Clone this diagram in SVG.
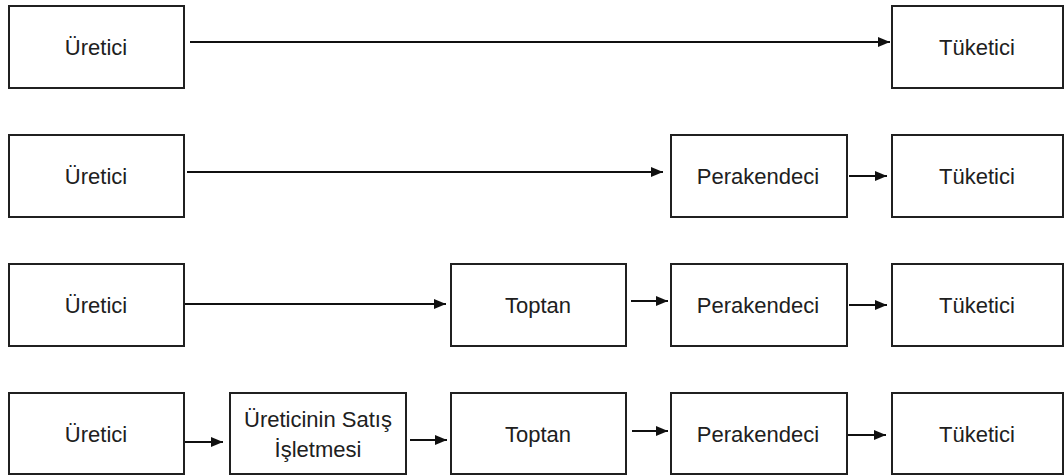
<svg xmlns="http://www.w3.org/2000/svg" width="1064" height="475" viewBox="0 0 1064 475">
  <style>
    .box { fill: #ffffff; stroke: #202020; stroke-width: 2; }
    .lbl { font-family: "Liberation Sans", Arial, sans-serif; font-size: 22px; fill: #202020; text-anchor: middle; }
    .edge { stroke: #101010; stroke-width: 2; fill: none; marker-end: url(#arrow); }
  </style>
  <defs>
    <marker id="arrow" markerUnits="userSpaceOnUse" markerWidth="13" markerHeight="12" refX="12" refY="5" orient="auto">
      <path d="M0,0 L12,5 L0,10 z" fill="#101010"/>
    </marker>
  </defs>
  <rect width="1064" height="475" fill="#ffffff"/>

  <!-- Row 1: producer to consumer -->
  <g id="r1-uretici"><rect class="box" x="9" y="6" width="175" height="82"/><text class="lbl" x="96" y="55">Üretici</text></g>
  <g id="r1-tuketici"><rect class="box" x="892" y="6" width="171" height="82"/><text class="lbl" x="977" y="55">Tüketici</text></g>

  <!-- Row 2: via retailer -->
  <g id="r2-uretici"><rect class="box" x="9" y="135" width="175" height="82"/><text class="lbl" x="96" y="184">Üretici</text></g>
  <g id="r2-perakendeci"><rect class="box" x="671" y="135" width="176" height="82"/><text class="lbl" x="758" y="184">Perakendeci</text></g>
  <g id="r2-tuketici"><rect class="box" x="892" y="135" width="171" height="82"/><text class="lbl" x="977" y="184">Tüketici</text></g>

  <!-- Row 3: via wholesaler and retailer -->
  <g id="r3-uretici"><rect class="box" x="9" y="264" width="175" height="82"/><text class="lbl" x="96" y="313">Üretici</text></g>
  <g id="r3-toptan"><rect class="box" x="451" y="264" width="175" height="82"/><text class="lbl" x="538" y="313">Toptan</text></g>
  <g id="r3-perakendeci"><rect class="box" x="671" y="264" width="176" height="82"/><text class="lbl" x="758" y="313">Perakendeci</text></g>
  <g id="r3-tuketici"><rect class="box" x="892" y="264" width="171" height="82"/><text class="lbl" x="977" y="313">Tüketici</text></g>

  <!-- Row 4: via producer's sales unit, wholesaler and retailer -->
  <g id="r4-uretici"><rect class="box" x="9" y="393" width="175" height="81"/><text class="lbl" x="96" y="442">Üretici</text></g>
  <g id="r4-satis"><rect class="box" x="230" y="393" width="176" height="81"/><text class="lbl" x="318" y="427">Üreticinin Satış</text><text class="lbl" x="318" y="457">İşletmesi</text></g>
  <g id="r4-toptan"><rect class="box" x="451" y="393" width="175" height="81"/><text class="lbl" x="538" y="442">Toptan</text></g>
  <g id="r4-perakendeci"><rect class="box" x="671" y="393" width="176" height="81"/><text class="lbl" x="758" y="442">Perakendeci</text></g>
  <g id="r4-tuketici"><rect class="box" x="892" y="393" width="171" height="81"/><text class="lbl" x="977" y="442">Tüketici</text></g>

  <g id="connectors">
    <line class="edge" x1="190" y1="42" x2="890" y2="42"/>

    <line class="edge" x1="187" y1="172" x2="663" y2="172"/>
    <line class="edge" x1="849" y1="176" x2="887" y2="176"/>

    <line class="edge" x1="185" y1="304" x2="446" y2="304"/>
    <line class="edge" x1="631" y1="301" x2="668" y2="301"/>
    <line class="edge" x1="849" y1="305" x2="887" y2="305"/>

    <line class="edge" x1="185" y1="442" x2="223" y2="442"/>
    <line class="edge" x1="410" y1="440" x2="447" y2="440"/>
    <line class="edge" x1="632" y1="431" x2="668" y2="431"/>
    <line class="edge" x1="848" y1="435" x2="886" y2="435"/>
  </g>
</svg>
